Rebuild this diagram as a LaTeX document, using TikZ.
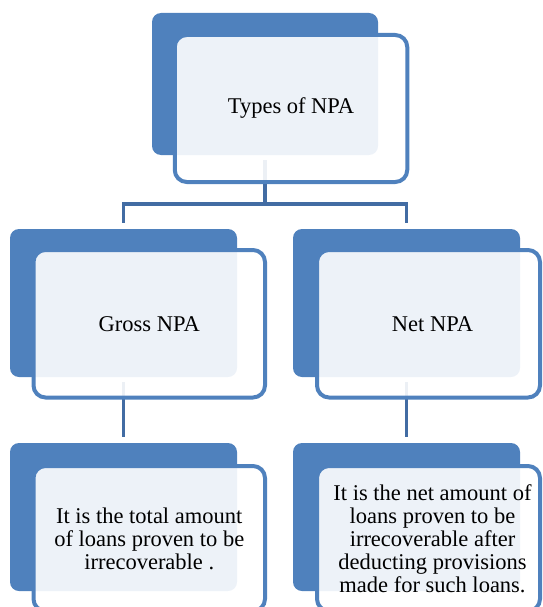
\documentclass[tikz,border=0pt]{standalone}
\usepackage{fontspec}
\setmainfont{Liberation Serif}
\definecolor{backblue}{RGB}{79,129,189}
\definecolor{connblue}{RGB}{66,108,163}
\tikzset{
  backbox/.style={draw=none, fill=backblue, rounded corners=9pt, inner sep=0pt},
  frontbox/.style={draw=backblue, line width=4pt, fill=white, fill opacity=0.9, text opacity=1,
    rounded corners=12pt, inner sep=0pt, align=center, font=\fontsize{22.5}{23}\selectfont},
  boxtext/.style={inner sep=0pt, align=center, font=\fontsize{22.5}{23}\selectfont},
  conn/.style={draw=connblue, line width=3.8pt}
}
\begin{document}
\begin{tikzpicture}[x=1pt,y=-1pt]
\useasboundingbox (0,0) rectangle (542,607);
\coordinate (hj) at (265,204);
% back boxes
\node[backbox, minimum width=226pt, minimum height=142pt] (tB) at (265,84) {};
\node[backbox, minimum width=227pt, minimum height=148pt] (gB) at (123.5,303) {};
\node[backbox, minimum width=227pt, minimum height=148pt] (nB) at (406.5,303) {};
\node[backbox, minimum width=227pt, minimum height=148pt] (gdB) at (123.5,517) {};
\node[backbox, minimum width=227pt, minimum height=148pt] (ndB) at (406.5,517) {};
% connectors
\draw[conn] ([yshift=-5pt]tB.south) -- (hj) -| ([yshift=6pt]gB.north);
\draw[conn] (hj) -| ([yshift=6pt]nB.north);
\draw[conn] ([yshift=-5pt]gB.south) -- ([yshift=6pt]gdB.north);
\draw[conn] ([yshift=-5pt]nB.south) -- ([yshift=6pt]ndB.north);
% front boxes
\node[frontbox, minimum width=232.5pt, minimum height=147pt] (tF) at (291,108.5) {Types of NPA};
\node[frontbox, minimum width=231.5pt, minimum height=147.5pt] (gF) at (149.25,323.75) {Gross NPA};
\node[frontbox, minimum width=223pt, minimum height=147.5pt] (nF) at (428.5,323.75) {};
\node[boxtext] (nT) at ([xshift=4pt]nF.center) {Net NPA};
\node[frontbox, minimum width=231.5pt, minimum height=145pt] (gdF) at (149.25,538.5) {It is the total amount\\of loans proven to be\\irrecoverable .};
\node[frontbox, minimum width=223pt, minimum height=145pt] (ndF) at (428.5,538.5) {};
\node[boxtext] (ndT) at ([xshift=4pt]ndF.center) {It is the net amount of\\loans proven to be\\irrecoverable after\\deducting provisions\\made for such loans.};
\end{tikzpicture}
\end{document}
